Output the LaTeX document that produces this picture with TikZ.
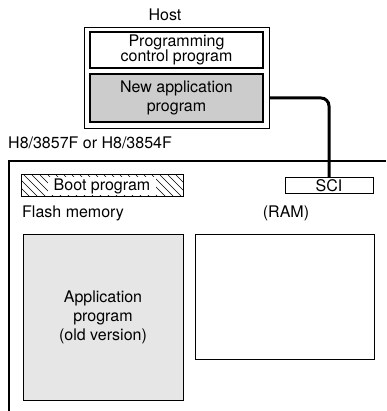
\documentclass[tikz,border=0pt]{standalone}
\usepackage{fontspec}
\setmainfont{TeX Gyre Heros}
\usepackage{xcolor}
\definecolor{newgray}{HTML}{CCCCCC}
\definecolor{oldgray}{HTML}{E6E6E6}
\usetikzlibrary{positioning}

\begin{document}
\begin{tikzpicture}[x=1pt, y=-1pt,
    every node/.style={font=\fontsize{16}{17}\selectfont, inner sep=0pt},
    blockbox/.style={draw, line width=1.2pt, align=center},
    label/.style={anchor=west}]
  \useasboundingbox (0,0) rectangle (386,411);
  % Host
  \node[draw, line width=0.9pt, minimum width=185pt, minimum height=101pt] (host) at (176.5,77.5) {};
  \node (hostlbl) at (165,15) {Host};
  \node[blockbox, minimum width=173pt, minimum height=36pt,
        font=\fontsize{16}{15.5}\selectfont] (progctl) at (176.5,50) {Programming\\control program};
  \node[blockbox, fill=newgray, minimum width=173pt, minimum height=48pt,
        font=\fontsize{16}{19}\selectfont] (newapp) at (176.5,98) {New application\\program};
  % Chip
  \draw[line width=1.3pt] (386,161) -- (9,161) -- (9,411);
  \node[label] (chiplbl) at (8,143) {H8/3857F or H8/3854F};
  \node[blockbox, line width=1pt, minimum width=88pt, minimum height=16pt] (sci) at (329,186) {SCI};
  % Boot program, hatched
  \begin{scope}
    \clip (21,175) rectangle (183,197);
    \foreach \x in {-8,0,...,184}
      \draw[line width=0.5pt] (\x,175) -- (\x+22,197);
  \end{scope}
  \node[draw, line width=1pt, minimum width=162pt, minimum height=22pt] (boot) at (102,186) {};
  \node[fill=white, inner xsep=6pt, inner ysep=1pt] (boottxt) at (boot.center) {Boot program};
  \node[label] (flashlbl) at (22,213) {Flash memory};
  \node (ramlbl) at (286,213) {(RAM)};
  \node[blockbox, line width=1pt, fill=oldgray, minimum width=160pt, minimum height=166pt,
        font=\fontsize{16}{19}\selectfont] (oldapp) at (103,317) {Application\\program\\(old version)};
  \node[draw, line width=1pt, minimum width=179pt, minimum height=125pt] (ram) at (284.5,296.5) {};
  % Serial link
  \draw[line width=3pt, rounded corners=8pt] (host.east |- newapp) -- (sci.north |- newapp) -- (sci.north);
\end{tikzpicture}
\end{document}
